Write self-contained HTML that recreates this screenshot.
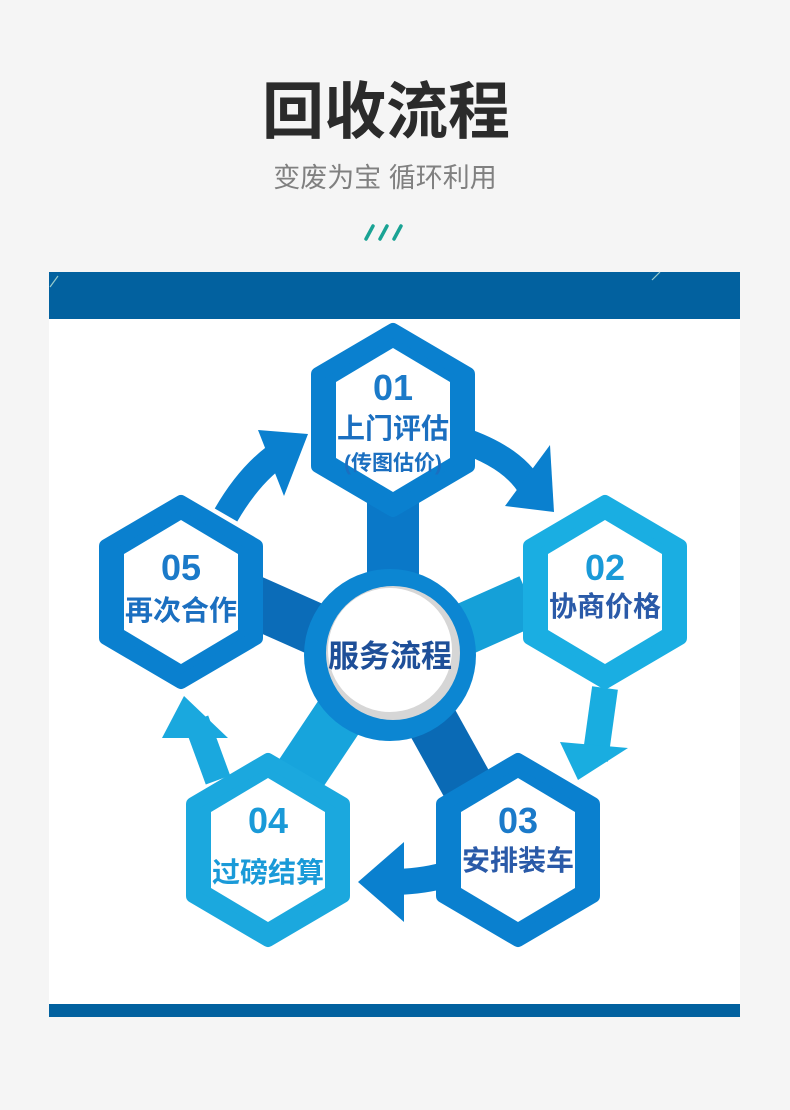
<!DOCTYPE html>
<html><head><meta charset="utf-8"><style>
body{margin:0;width:790px;height:1110px;background:#f5f5f5;overflow:hidden;font-family:"Liberation Sans","Noto Sans CJK SC",sans-serif}
.t{position:absolute;left:0;width:790px;text-align:center}
</style></head><body>
<div class="t" style="top:75px;left:-9px;font-size:62px;font-weight:bold;color:#2b2b2b;line-height:76px">回收流程</div>
<div class="t" style="top:160px;left:-10px;font-size:27px;color:#808080;line-height:36px">变废为宝 循环利用</div>
<svg style="position:absolute;left:0;top:0" width="790" height="1110">
<g stroke="#1aa394" stroke-width="3.5" stroke-linecap="round">
<line x1="366" y1="239" x2="373" y2="226"/><line x1="380" y1="239" x2="387" y2="226"/><line x1="394" y1="239" x2="401" y2="226"/></g>
<rect x="49" y="272" width="691" height="745" fill="#fff"/>
<rect x="49" y="272" width="691" height="47" fill="#02619f"/>
<rect x="49" y="1004" width="691" height="13" fill="#02619f"/>
<line x1="50" y1="287" x2="58" y2="276" stroke="#9cc" stroke-width="1.2"/>
<line x1="652" y1="280" x2="660" y2="272" stroke="#9cc" stroke-width="1.2"/>
<!-- spokes -->
<g stroke-linecap="butt">
<line x1="393" y1="500" x2="393" y2="600" stroke="#0a78c8" stroke-width="52"/>
<line x1="530" y1="600" x2="440" y2="640" stroke="#15a0d8" stroke-width="52"/>
<line x1="250" y1="600" x2="340" y2="640" stroke="#0b6cb8" stroke-width="52"/>
<line x1="290" y1="790" x2="350" y2="700" stroke="#17a4dc" stroke-width="52"/>
<line x1="470" y1="790" x2="420" y2="700" stroke="#0a6ab5" stroke-width="52"/>
</g>
<!-- arrows -->
<g fill="none" stroke-width="26">
<path d="M462 440 Q515 458 532 490" stroke="#0a80cf"/>
<path d="M605 688 L595 760" stroke="#19ade0"/>
<path d="M445 875 Q420 882 390 882" stroke="#0a80cf"/>
<path d="M218 780 L196 720" stroke="#1aa8de"/>
<path d="M226 515 Q252 470 285 450" stroke="#0a80cf"/>
</g>
<polygon points="550,445 554,512 505,506" fill="#0a80cf"/>
<polygon points="560,742 628,748 578,780" fill="#19ade0"/>
<polygon points="404,842 404,922 358,882" fill="#0a80cf"/>
<polygon points="162,738 228,738 184,696" fill="#1aa8de"/>
<polygon points="258,430 308,434 284,496" fill="#0a80cf"/>
<!-- center -->
<circle cx="390" cy="655" r="86" fill="#0c86d2"/>
<circle cx="393" cy="653" r="67" fill="#d6d6d6"/>
<circle cx="390" cy="650" r="62" fill="#fff"/>
<!-- hexes -->
<g stroke-linejoin="round">
<polygon points="393,330 468,374 468,466 393,510 318,466 318,374" fill="#0a80cf" stroke="#0a80cf" stroke-width="14"/>
<polygon points="393,348 450,382 450,458 393,492 336,458 336,382" fill="#fff"/>
<polygon points="605,502 680,546 680,638 605,682 530,638 530,546" fill="#1aaee2" stroke="#1aaee2" stroke-width="14"/>
<polygon points="605,520 662,554 662,630 605,664 548,630 548,554" fill="#fff"/>
<polygon points="181,502 256,546 256,638 181,682 106,638 106,546" fill="#0a80cf" stroke="#0a80cf" stroke-width="14"/>
<polygon points="181,520 238,554 238,630 181,664 124,630 124,554" fill="#fff"/>
<polygon points="268,760 343,804 343,896 268,940 193,896 193,804" fill="#1ba8de" stroke="#1ba8de" stroke-width="14"/>
<polygon points="268,778 325,812 325,888 268,922 211,888 211,812" fill="#fff"/>
<polygon points="518,760 593,804 593,896 518,940 443,896 443,804" fill="#0a80cf" stroke="#0a80cf" stroke-width="14"/>
<polygon points="518,778 575,812 575,888 518,922 461,888 461,812" fill="#fff"/>
</g>
<g font-family="Liberation Sans,Noto Sans CJK SC,sans-serif" font-weight="bold" text-anchor="middle">
<text x="393" y="400" font-size="36" fill="#1b7ac9">01</text>
<text x="393" y="438" font-size="28" fill="#1b6fc0">上门评估</text>
<text x="393" y="470" font-size="21" fill="#1b6fc0">(传图估价)</text>
<text x="605" y="580" font-size="36" fill="#1a9ad8">02</text>
<text x="605" y="616" font-size="28" fill="#2a5aa8">协商价格</text>
<text x="181" y="580" font-size="36" fill="#1b7ac9">05</text>
<text x="181" y="620" font-size="28" fill="#1b6fc0">再次合作</text>
<text x="268" y="833" font-size="36" fill="#1a9ad8">04</text>
<text x="268" y="882" font-size="28" fill="#1a9ad8">过磅结算</text>
<text x="518" y="833" font-size="36" fill="#1b7ac9">03</text>
<text x="518" y="870" font-size="28" fill="#2a5aa8">安排装车</text>
<text x="390" y="667" font-size="31" fill="#1e4f98">服务流程</text>
</g>
</svg>
</body></html>
